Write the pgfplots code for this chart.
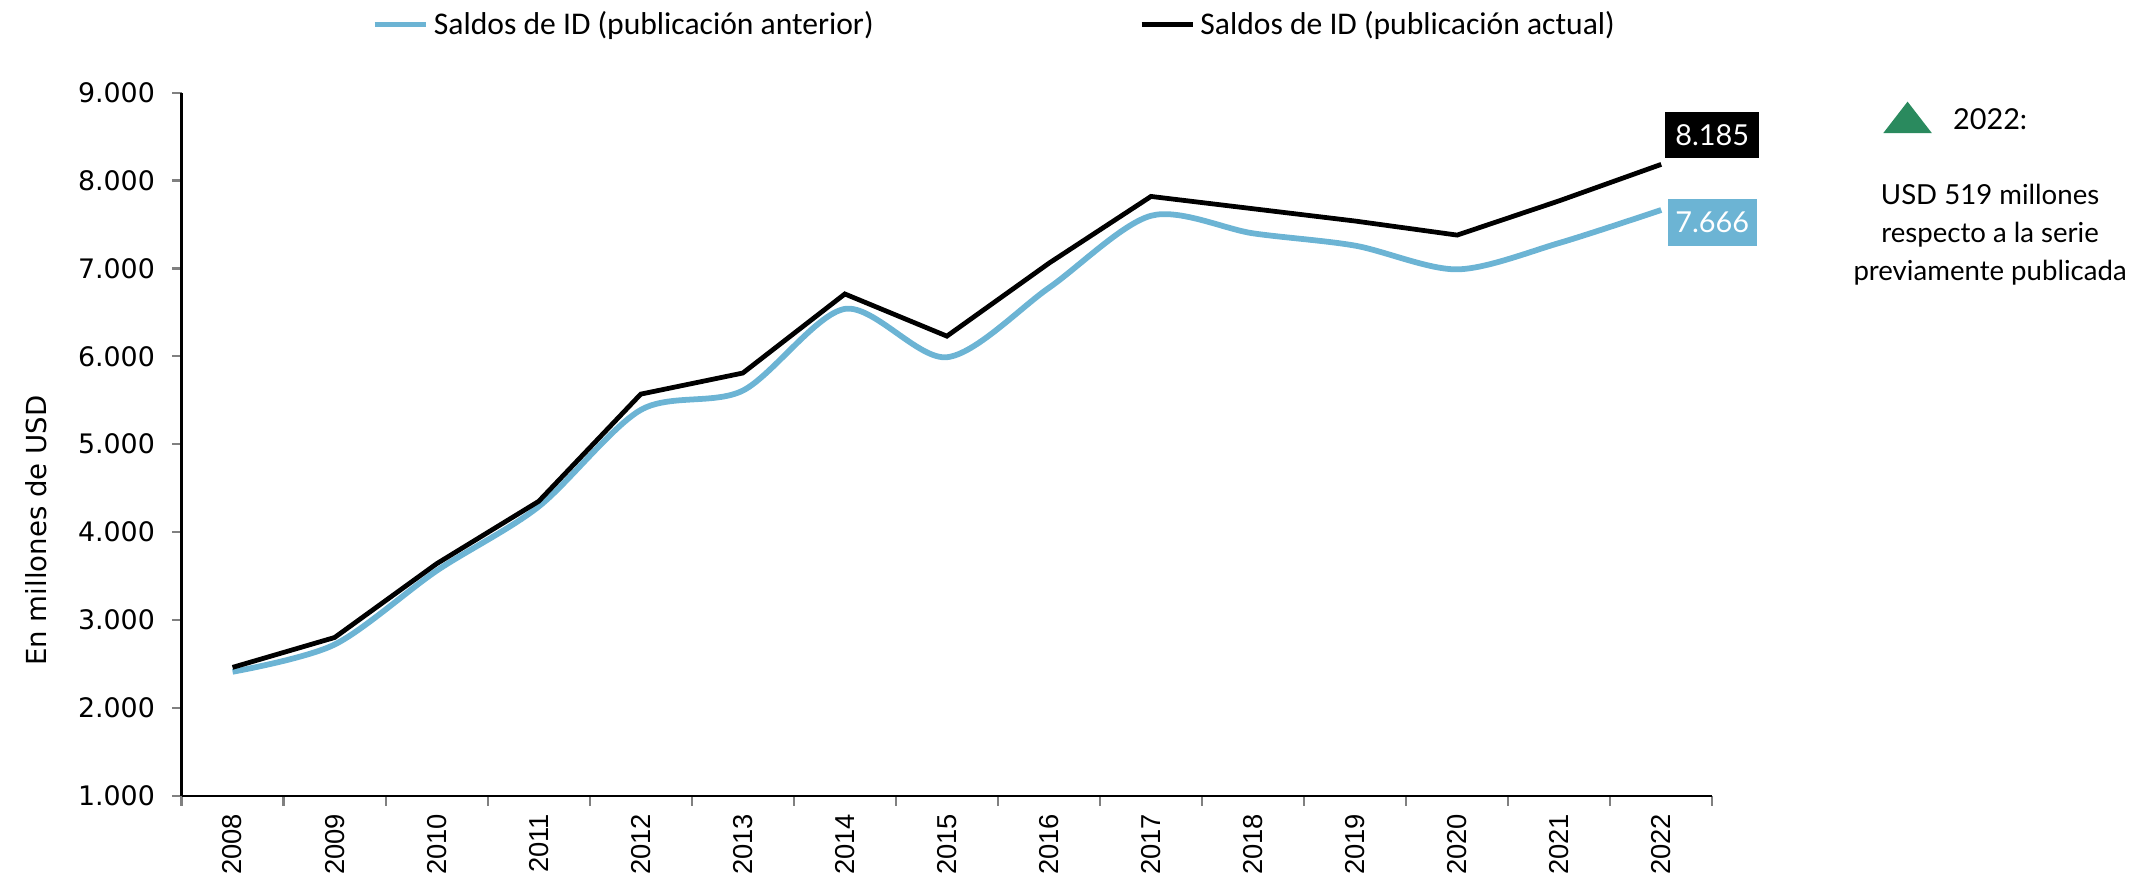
\documentclass[border=0pt]{standalone}
\usepackage{pgfplots}
\pgfplotsset{compat=1.18}
\usepackage{fontspec}
\setmainfont{DejaVu Sans}
\newfontfamily\legfont{Carlito}
\newfontfamily\yearfont{Liberation Sans}
\newfontfamily\gillfont{Lato}
\definecolor{prevblue}{HTML}{6CB4D4}
\definecolor{upgreen}{HTML}{2A8A5E}

\begin{document}
\begin{tikzpicture}
\begin{axis}[
  scale only axis,
  width=21.45cm, height=9.85cm,
  xmin=-0.5, xmax=14.5,
  ymin=1000, ymax=9000,
  clip=false,
  axis lines*=left,
  axis line style={line width=0.9pt},
  xtick={0,...,14},
  xticklabels={2008,2009,2010,2011,2012,2013,2014,2015,2016,2017,2018,2019,2020,2021,2022},
  xticklabel style={rotate=90, anchor=east, font=\yearfont\fontsize{10.9}{13}\selectfont, xshift=0pt},
  major x tick style={draw=none},
  minor xtick={-0.5,0.5,...,14.5},
  minor tick length=0.14cm,
  every minor tick/.append style={line width=0.9pt},
  ytick={1000,2000,...,9000},
  major tick length=0.13cm,
  every major tick/.append style={line width=0.9pt},
  tick align=outside,
  tick pos=left,
  yticklabel style={font=\fontsize{10.7}{12}\selectfont, xshift=-0.12cm},
  /pgf/number format/.cd, 1000 sep={.}, assume math mode=true,
  /pgfplots/.cd,
  ylabel={En millones de USD},
  ylabel style={at={(axis description cs:-0.095,0.377)}, anchor=center, font=\fontsize{11}{13}\selectfont},
  legend columns=2,
  legend style={draw=none, fill=none, at={(axis description cs:0.532,1.097)}, anchor=center,
    font=\legfont\fontsize{12.6}{14}\selectfont},
  /tikz/every even column/.append style={column sep=3.65cm},
  legend image code/.code={\draw[#1] (0cm,0cm) -- (0.72cm,0cm);},
]
\addplot[color=prevblue, line width=2.3pt, smooth, tension=0.5] coordinates {
  (0,2410) (1,2720) (2,3560) (3,4290) (4,5390) (5,5610) (6,6540) (7,5990)
  (8,6780) (9,7600) (10,7400) (11,7260) (12,6990) (13,7290) (14,7666)};
\addlegendentry{Saldos de ID (publicación anterior)}
\addplot[color=black, line width=1.9pt] coordinates {
  (0,2460) (1,2800) (2,3640) (3,4350) (4,5570) (5,5810) (6,6710) (7,6230)
  (8,7060) (9,7820) (10,7680) (11,7540) (12,7380) (13,7770) (14,8185)};
\addlegendentry{Saldos de ID (publicación actual)}

\node[fill=black, text=white, font=\gillfont\fontsize{11.5}{14}\selectfont, minimum width=1.32cm, minimum height=0.65cm, inner sep=1pt] at (axis cs:14.5,8519) {8.185};
\node[fill=prevblue, text=white, font=\gillfont\fontsize{11.5}{14}\selectfont, minimum width=1.25cm, minimum height=0.65cm, inner sep=1pt] at (axis cs:14.5,7525) {7.666};

\fill[upgreen] ([xshift=-0.34cm,yshift=-0.2cm]axis description cs:1.1276,0.963) -- ([xshift=0.34cm,yshift=-0.2cm]axis description cs:1.1276,0.963) -- ([yshift=0.24cm]axis description cs:1.1276,0.963) -- cycle;
\node[anchor=west, font=\gillfont\fontsize{11.5}{14}\selectfont, inner sep=0pt] at (axis description cs:1.157,0.963) {2022:};
\node[align=center, font=\gillfont\fontsize{11}{15.2}\selectfont, inner sep=0pt] at (axis description cs:1.1815,0.798) {USD 519 millones\\respecto a la serie\\previamente publicada};

% fix the page to the reference's proportions
\path (axis description cs:-0.1186,-0.1262) rectangle (axis description cs:1.2801,1.132);
\end{axis}
\end{tikzpicture}
\end{document}
